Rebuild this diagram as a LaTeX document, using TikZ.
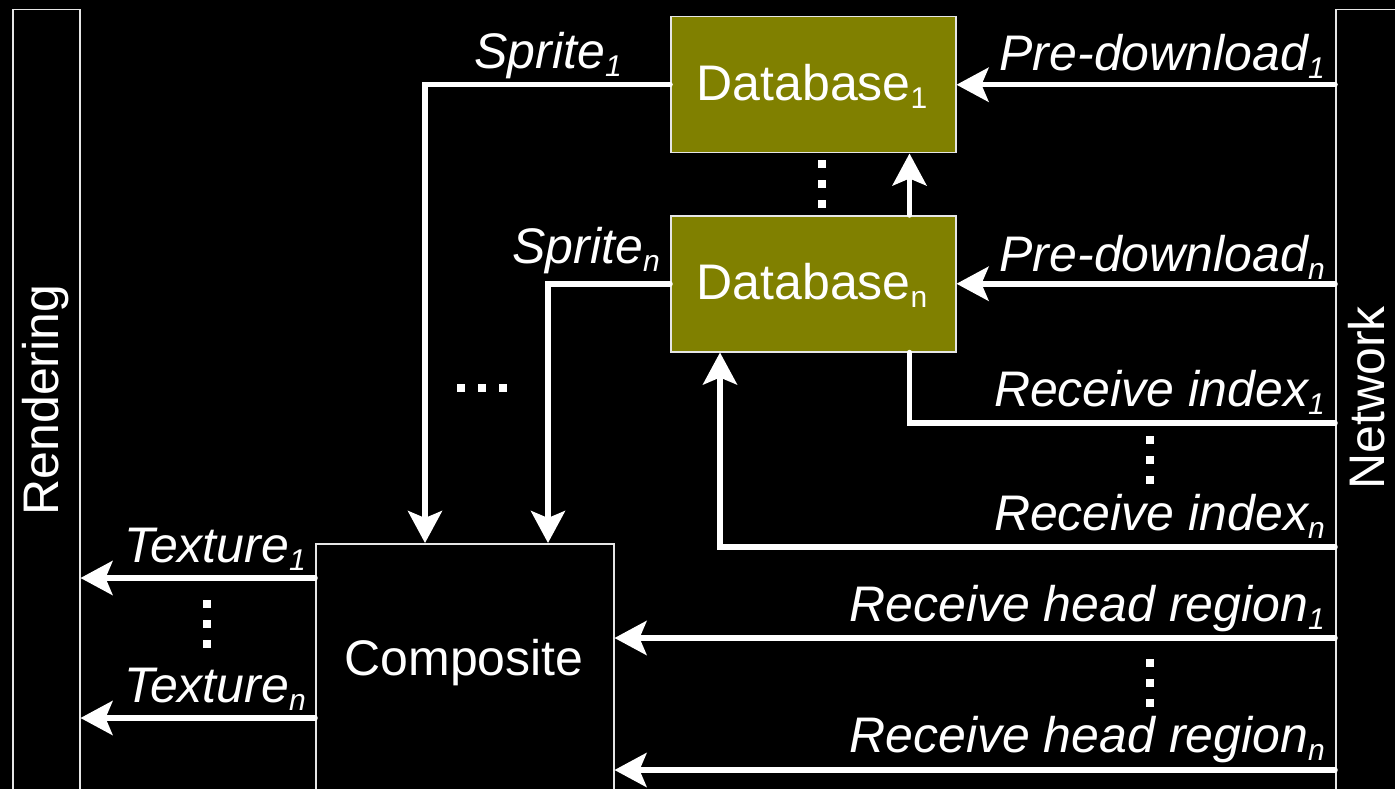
\documentclass[tikz,border=0pt]{standalone}
\usepackage{fontspec}
\setmainfont{Liberation Sans}
\usetikzlibrary{arrows.meta}
\definecolor{dbolive}{HTML}{808000}
\definecolor{edgegray}{HTML}{E6E6E6}
\newcommand{\sbs}[1]{\raisebox{-0.16em}{\fontsize{30}{30}\selectfont #1}}
\begin{document}
\begin{tikzpicture}[x=1pt,y=-1pt,
  every node/.style={font=\fontsize{50}{58}\selectfont, text=white, inner sep=0pt},
  box/.style={draw=edgegray, line width=1.5pt, rectangle, anchor=north west},
  dbbox/.style={box, fill=dbolive},
  lbl/.style={font=\fontsize{50}{58}\selectfont\itshape, anchor=base east},
  wire/.style={draw=white, line width=5.5pt, line cap=round},
  arr/.style={wire, -{Stealth[length=32pt, width=34pt, inset=7pt]}},
  dotsq/.style={fill=white, minimum size=7.5pt, inner sep=0pt, rectangle}
]
\useasboundingbox[fill=black] (0,0) rectangle (1395,789);
\clip (0,0) rectangle (1395,789);

% side bars
\node[box, minimum width=67pt, minimum height=800pt] (rend) at (12,9) {};
\node[rotate=90] (rendtxt) at (46,400) {Rendering};
\node[box, minimum width=80pt, minimum height=800pt] (net) at (1335,9) {};
\node[rotate=90] (nettxt) at (1367,398) {Network};

% databases
\node[dbbox, minimum width=285pt, minimum height=136pt] (db1) at (670,16) {};
\node (db1txt) at (812,86) {Database\sbs{1}};
\node[dbbox, minimum width=285pt, minimum height=136pt] (dbn) at (670,215) {};
\node (dbntxt) at (812,285) {Database\sbs{n}};

% composite
\node[box, minimum width=298pt, minimum height=270pt] (comp) at (315,543) {};
\node (comptxt) at (464,663) {Composite};

% sprite connectors
\draw[arr] (db1.west) -| ([xshift=110pt]comp.north west);
\draw[arr] (dbn.west) -| ([xshift=233pt]comp.north west);
\node[lbl] (sp1) at (622,69) {Sprite\sbs{1}};
\node[lbl] (spn) at (660,263) {Sprite\sbs{n}};

% pre-download
\draw[arr] (net.west |- db1.east) -- (db1.east);
\draw[arr] (net.west |- dbn.east) -- (dbn.east);
\node[lbl] (pd1) at (1325,71) {Pre-download\sbs{1}};
\node[lbl] (pdn) at (1325,271) {Pre-download\sbs{n}};

% database n -> database 1
\draw[arr] ([xshift=-47pt]dbn.north east) -- ([xshift=-47pt]db1.south east);

% receive index
\draw[wire] (net.west |- 0,423) -| ([xshift=-47pt]dbn.south east);
\draw[arr] (net.west |- 0,547) -| ([xshift=50pt]dbn.south west);
\node[lbl] (ri1) at (1325,406) {Receive index\sbs{1}};
\node[lbl] (rin) at (1325,530) {Receive index\sbs{n}};

% receive head region
\draw[arr] (net.west |- 0,638) -- (comp.east |- 0,638);
\draw[arr] (net.west |- 0,770) -- (comp.east |- 0,770);
\node[lbl] (rh1) at (1325,621) {Receive head region\sbs{1}};
\node[lbl] (rhn) at (1325,752) {Receive head region\sbs{n}};

% texture
\draw[arr] (comp.west |- 0,578) -- (rend.east |- 0,578);
\draw[arr] (comp.west |- 0,718) -- (rend.east |- 0,718);
\node[lbl] (tx1) at (306,562) {Texture\sbs{1}};
\node[lbl] (txn) at (306,702) {Texture\sbs{n}};

% ellipses
\foreach \y [count=\i] in {164,184,204} \node[dotsq] (da\i) at (822,\y) {};
\foreach \x [count=\i] in {461,482,503} \node[dotsq] (db\i) at (\x,388) {};
\foreach \y [count=\i] in {604,624,644} \node[dotsq] (dc\i) at (207,\y) {};
\foreach \y [count=\i] in {440,460,480} \node[dotsq] (dd\i) at (1150,\y) {};
\foreach \y [count=\i] in {663,683,703} \node[dotsq] (de\i) at (1150,\y) {};
\end{tikzpicture}
\end{document}
